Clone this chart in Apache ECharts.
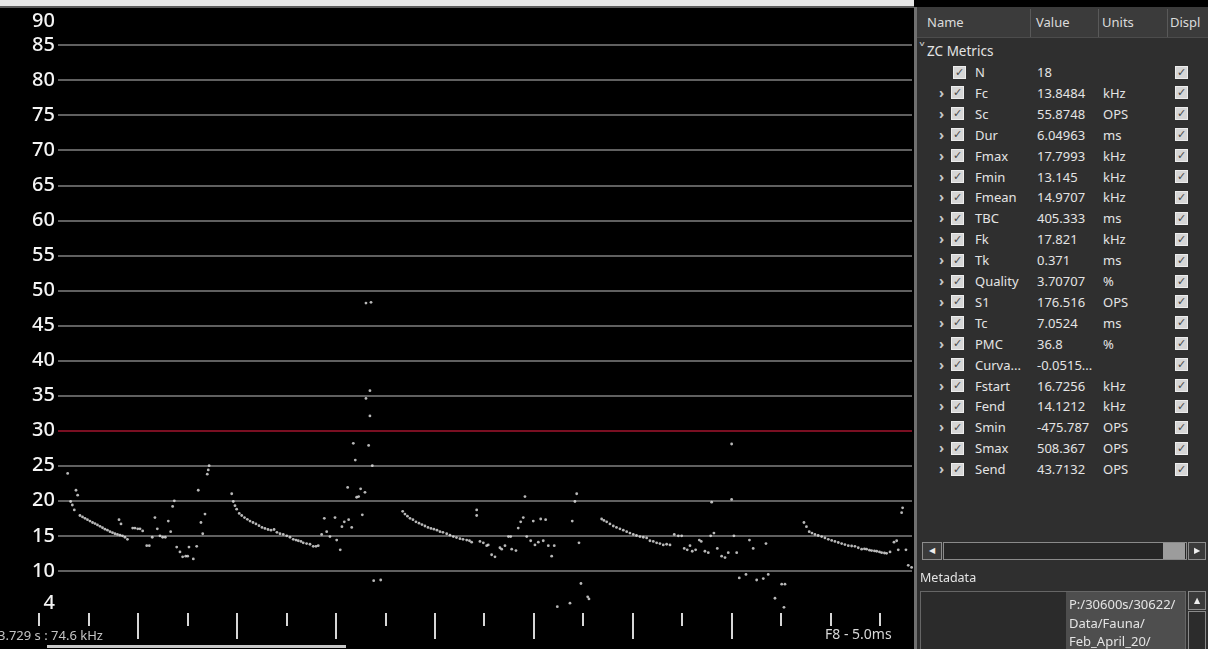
<!DOCTYPE html>
<html>
<head>
<meta charset="utf-8">
<script src="https://cdn.jsdelivr.net/npm/echarts@6/dist/echarts.min.js"></script>
<style>
  html, body { margin: 0; padding: 0; background: #e6e6e6; width: 1208px; height: 649px; overflow: hidden; }
  #chart { position: absolute; left: 0; top: 0; width: 1208px; height: 649px; }
  .ui { position: absolute; font-family: 'Noto Sans', 'DejaVu Sans', sans-serif; font-size: 13px; color: #e4e4e4; white-space: nowrap; }
  .panel { left: 914px; top: 7px; width: 294px; height: 642px; background: #2f2f2f; border-left: 3px solid #707070; box-sizing: border-box; }
  .hdr { left: 917px; top: 7px; width: 291px; height: 31px; background: #3b3b3b; border-bottom: 1px solid #4c4c4c; box-sizing: border-box; }
  .hsep { top: 9px; width: 1px; height: 28px; background: #595959; }
  .htxt { top: 7px; line-height: 31px; color: #dcdcdc; }
  .row { height: 20px; line-height: 20px; }
  .chk { width: 11px; height: 11px; background: #d6d6d6; border: 1px solid #ededed; color: #4a4a4a; font-size: 11px; line-height: 11px; text-align: center; font-weight: bold; font-family: 'DejaVu Sans', sans-serif; }
  .exp { color: #c8c8c8; font-size: 14px; font-weight: bold; }
  .sb { background: #3a3a3a; border: 1px solid #8c8c8c; box-sizing: border-box; color: #eee; font-size: 8px; text-align: center; font-family: 'DejaVu Sans', sans-serif; }
</style>
</head>
<body>
<div id="chart"></div>
<script>
// Frequency axis labels (kHz)
const freqLabels = [4, 10, 15, 20, 25, 30, 35, 40, 45, 50, 55, 60, 65, 70, 75, 80, 85, 90];
// Time ticks (ms), drawn every 5 ms; long ticks every 10 ms in the middle of the view
const shortTicks = [0, 5, 15, 25, 35, 45, 55, 65, 75, 80, 85];
const longTicks = [10, 20, 30, 40, 50, 60, 70];

// Zero-crossing points per call: [time ms, frequency kHz]
const call1 = [
  [2.90, 23.9], [3.20, 19.9], [3.37, 19.4], [3.57, 18.7], [3.74, 21.5], [3.91, 20.8],
  [4.14, 17.9], [4.40, 17.7], [4.65, 17.5], [4.90, 17.3], [5.15, 17.1], [5.41, 16.9],
  [5.66, 16.75], [5.91, 16.55], [6.17, 16.35], [6.42, 16.15], [6.67, 15.95], [6.92, 15.8],
  [7.18, 15.6], [7.43, 15.45], [7.68, 15.3], [7.93, 15.2], [8.19, 15.1], [8.44, 15.0],
  [8.69, 14.8], [8.94, 14.5],
  [8.09, 17.3], [8.29, 16.7], [9.47, 16.1], [9.70, 16.1], [9.98, 16.0], [10.21, 16.0],
  [10.48, 15.7], [10.89, 13.6], [11.15, 13.6], [11.45, 14.8], [11.72, 17.6], [11.96, 16.0],
  [12.23, 15.0], [12.50, 14.8], [12.77, 14.8], [13.07, 17.1], [13.31, 15.6], [13.51, 19.2],
  [13.68, 20.0], [13.92, 13.4], [14.25, 12.7], [14.52, 12.0], [14.83, 12.1], [15.03, 12.1],
  [15.16, 13.4], [15.60, 11.7], [15.94, 13.5], [16.10, 21.5], [16.37, 16.9], [16.55, 15.3],
  [16.78, 18.1], [17.01, 23.8], [17.11, 24.4], [17.20, 25.0]
];
const call2 = [
  [19.48, 21.0], [19.64, 19.9], [19.81, 19.3], [19.98, 18.8], [20.24, 18.2],
  [20.49, 17.9], [20.77, 17.6], [21.06, 17.35], [21.33, 17.1], [21.63, 16.9], [21.93, 16.7],
  [22.24, 16.45], [22.54, 16.2], [22.84, 16.05], [23.15, 15.9], [23.45, 15.8], [23.76, 15.9],
  [24.05, 15.5], [24.36, 15.3], [24.69, 15.2], [25.04, 15.0], [25.37, 14.8], [25.70, 14.5],
  [25.98, 14.4], [26.21, 14.3], [26.48, 14.2], [26.71, 14.0], [27.05, 13.9], [27.39, 13.8],
  [27.72, 13.5], [28.00, 13.5], [28.23, 13.6],
  [28.57, 15.2], [28.84, 17.5], [29.08, 15.6], [29.41, 14.9], [29.92, 17.6], [30.09, 14.4],
  [30.45, 13.0], [30.62, 16.3], [30.86, 17.0], [31.30, 17.3], [31.61, 16.2], [31.20, 21.9],
  [31.77, 28.2], [31.97, 25.8], [32.11, 20.5], [32.31, 20.6], [32.51, 21.7], [32.68, 18.0],
  [32.95, 21.2], [33.05, 34.6], [33.05, 48.2], [33.56, 48.3], [33.45, 35.7], [33.45, 32.1],
  [33.32, 27.9], [33.69, 25.0], [33.83, 8.6], [34.54, 8.7]
];
const call3 = [
  [36.76, 18.5], [36.99, 18.1], [37.24, 17.8], [37.50, 17.5], [37.80, 17.3], [38.10, 17.0],
  [38.41, 16.8], [38.71, 16.6], [39.01, 16.4], [39.32, 16.2], [39.62, 16.05], [39.92, 15.95],
  [40.23, 15.8], [40.53, 15.6], [40.83, 15.5], [41.21, 15.3], [41.54, 15.1], [41.88, 14.9],
  [42.20, 14.75], [42.55, 14.6], [42.86, 14.5], [43.23, 14.4], [43.51, 14.3], [43.73, 14.1],
  [44.24, 18.7], [44.24, 17.9], [44.57, 14.2], [44.91, 14.0], [45.25, 13.6], [45.41, 13.7],
  [45.75, 12.3], [46.09, 12.0], [46.59, 13.3], [46.77, 13.1], [47.10, 13.6], [47.45, 14.9],
  [47.68, 14.9], [47.78, 13.1], [48.21, 12.9], [48.44, 16.1], [48.69, 17.0], [48.95, 17.6],
  [49.12, 20.6], [49.30, 14.9], [49.70, 14.3], [49.96, 17.1], [50.13, 13.7], [50.47, 14.1],
  [50.71, 17.4], [50.97, 14.3], [51.21, 17.3], [51.48, 13.6], [51.82, 12.1], [52.08, 13.6],
  [52.39, 4.9], [53.67, 5.4], [53.90, 17.1], [54.17, 19.9], [54.35, 21.0], [54.58, 14.0],
  [54.78, 8.2], [55.46, 6.3], [55.59, 6.0]
];
const call4 = [
  [56.87, 17.4], [57.10, 17.2], [57.38, 17.0], [57.71, 16.7], [58.05, 16.4], [58.37, 16.2],
  [58.72, 16.0], [59.06, 15.8], [59.40, 15.6], [59.73, 15.4], [60.07, 15.2], [60.39, 15.05],
  [60.74, 14.9], [61.08, 14.8], [61.42, 14.7], [61.75, 14.3], [62.09, 14.2], [62.43, 14.0],
  [62.76, 13.9], [63.10, 13.7], [63.44, 13.8], [63.78, 13.7],
  [64.21, 15.2], [64.62, 15.0], [64.96, 15.0], [65.22, 13.2], [65.52, 13.0], [65.80, 13.6],
  [66.03, 12.8], [66.37, 13.0], [66.74, 14.4], [66.94, 14.2], [67.31, 12.8], [67.65, 12.6],
  [67.99, 19.8], [67.89, 15.0], [68.22, 15.4], [68.56, 13.2], [69.00, 12.1], [69.34, 11.9],
  [69.67, 12.6], [70.01, 28.1], [70.01, 20.2], [70.24, 15.0], [70.52, 12.6], [70.78, 9.0],
  [71.46, 9.5], [71.81, 14.4], [72.19, 13.2], [72.54, 8.7], [73.21, 8.9], [73.48, 13.9],
  [73.71, 9.5], [74.39, 6.1], [75.07, 8.1], [75.40, 8.1], [75.30, 4.8]
];
const call5 = [
  [77.32, 16.9], [77.57, 16.3], [77.85, 15.6], [78.13, 15.4], [78.43, 15.2], [78.76, 15.05],
  [79.11, 14.9], [79.44, 14.7], [79.78, 14.5], [80.12, 14.35], [80.45, 14.2], [80.79, 14.05],
  [81.13, 13.9], [81.46, 13.75], [81.80, 13.6], [82.14, 13.55], [82.47, 13.5], [82.81, 13.3],
  [83.15, 13.1], [83.43, 13.15], [83.65, 13.1], [83.94, 12.95], [84.16, 12.9], [84.44, 12.85],
  [84.67, 12.8], [84.95, 12.7], [85.17, 12.6], [85.45, 12.55], [85.67, 12.5], [86.02, 12.7],
  [86.42, 14.1], [86.69, 14.3], [86.85, 13.0], [87.63, 13.0], [87.19, 18.3], [87.29, 19.0],
  [87.86, 10.8], [88.20, 10.5]
];

// Metrics table
const metricNames = ['N', 'Fc', 'Sc', 'Dur', 'Fmax', 'Fmin', 'Fmean', 'TBC', 'Fk', 'Tk', 'Quality', 'S1', 'Tc', 'PMC', 'Curva...', 'Fstart', 'Fend', 'Smin', 'Smax', 'Send'];
const metricValues = ['18', '13.8484', '55.8748', '6.04963', '17.7993', '13.145', '14.9707', '405.333', '17.821', '0.371', '3.70707', '176.516', '7.0524', '36.8', '-0.0515...', '16.7256', '14.1212', '-475.787', '508.367', '43.7132'];
const metricUnits = ['', 'kHz', 'OPS', 'ms', 'kHz', 'kHz', 'kHz', 'ms', 'kHz', 'ms', '%', 'OPS', 'ms', '%', '', 'kHz', 'kHz', 'OPS', 'OPS', 'OPS'];
const metadataLines = ['P:/30600s/30622/', 'Data/Fauna/', 'Feb_April_20/'];

const points = [].concat(call1, call2, call3, call4, call5);

// Grid line colours for 0, 5, 10 ... 90 kHz (30 kHz drawn in red)
const lineColors = [];
for (let v = 0; v <= 90; v += 5) {
  if (v < 10 || v === 90) lineColors.push('rgba(0,0,0,0)');
  else if (v === 30) lineColors.push('#a3142e');
  else lineColors.push('#808080');
}

const chart = echarts.init(document.getElementById('chart'), null, { renderer: 'canvas' });
const tMin = -3.94, tMax = 88.24;
chart.setOption({
  backgroundColor: '#000',
  animation: false,
  grid: [
    { left: 0, right: 296, top: 10, bottom: 8 },
    { left: 58, right: 296, top: 10, bottom: 8 }
  ],
  xAxis: [
    {
      gridIndex: 0, type: 'value', min: tMin, max: tMax, position: 'bottom', offset: -28,
      axisLine: { show: false }, axisLabel: { show: false }, splitLine: { show: false },
      axisTick: { show: true, inside: false, length: 13, customValues: shortTicks, lineStyle: { color: '#d6d6d6', width: 2 } }
    },
    {
      gridIndex: 0, type: 'value', min: tMin, max: tMax, position: 'bottom', offset: -28,
      axisLine: { show: false }, axisLabel: { show: false }, splitLine: { show: false },
      axisTick: { show: true, inside: false, length: 26, customValues: longTicks, lineStyle: { color: '#d6d6d6', width: 2 } }
    },
    { gridIndex: 1, type: 'value', min: 0, max: 1, show: false }
  ],
  yAxis: [
    { gridIndex: 0, type: 'value', min: 0, max: 90, show: false },
    {
      gridIndex: 1, type: 'value', min: 0, max: 90, interval: 5,
      axisLine: { show: false }, axisTick: { show: false },
      splitLine: { show: true, lineStyle: { color: lineColors, width: 1.5 } },
      axisLabel: {
        customValues: freqLabels, color: '#f4f4f4', fontSize: 20, margin: 3,
        fontFamily: 'Noto Sans', fontWeight: 500,
        formatter: function (v) {
          if (v === 90) return '{top|90}';
          if (v === 4) return '{bot|4}';
          return String(v);
        },
        rich: {
          top: { fontSize: 20, color: '#f4f4f4', fontFamily: 'Noto Sans', fontWeight: 500, padding: [22, 0, 0, 0] },
          bot: { fontSize: 20, color: '#f4f4f4', fontFamily: 'Noto Sans', fontWeight: 500, padding: [0, 0, 20, 0] }
        }
      }
    }
  ],
  series: [{
    type: 'scatter', xAxisIndex: 0, yAxisIndex: 0, data: points,
    symbol: 'circle', symbolSize: 2.8,
    itemStyle: { color: '#e6e6e6' }, silent: true
  }],
  graphic: [
    { type: 'rect', shape: { x: 0, y: 0, width: 914, height: 6 }, style: { fill: '#e6e6e6' }, z: 10 },
    { type: 'rect', shape: { x: 0, y: 6, width: 914, height: 2 }, style: { fill: '#5a5a5a' }, z: 10 },
    { type: 'rect', shape: { x: 47, y: 645, width: 299, height: 3 }, style: { fill: '#c9c9c9' }, z: 10 },
    { type: 'text', x: -2, y: 636, style: { text: '3.729 s : 74.6 kHz', fill: '#c4c4c4', font: '13px "Noto Sans"', verticalAlign: 'middle' }, z: 10 },
    { type: 'text', x: 825, y: 635, style: { text: 'F8 - 5.0ms', fill: '#d8d8d8', font: '14px "Noto Sans"', verticalAlign: 'middle' }, z: 10 }
  ]
});

// Side panel with metric table and metadata
function el(cls, left, top, text, extra) {
  const d = document.createElement('div');
  d.className = 'ui ' + cls;
  d.style.left = left + 'px';
  d.style.top = top + 'px';
  if (text !== undefined) d.textContent = text;
  if (extra) Object.assign(d.style, extra);
  document.body.appendChild(d);
  return d;
}
el('panel', 914, 7);
el('hdr', 917, 7);
[1030, 1098, 1167].forEach(x => el('hsep', x, 9));
el('htxt', 927, 7, 'Name');
el('htxt', 1036, 7, 'Value');
el('htxt', 1102, 7, 'Units');
el('htxt', 1170, 7, 'Displ');
el('row', 918, 40, '\u02C5', { color: '#c0c0c0', fontSize: '16px', fontFamily: 'DejaVu Sans' });
el('row', 927, 41, 'ZC Metrics', { fontSize: '13.5px' });
metricNames.forEach((name, i) => {
  const cy = 72 + i * 20.9;
  const top = cy - 10;
  if (i > 0) el('row exp', 939, top, '\u203A');
  el('chk', i === 0 ? 953 : 951, cy - 6.5, '\u2713');
  el('row', 975, top, name);
  el('row', 1037, top, metricValues[i]);
  el('row', 1103, top, metricUnits[i]);
  el('chk', 1175, cy - 6.5, '\u2713');
});
// horizontal scroll bar
el('sb', 922, 542, '\u25C0', { width: '20px', height: '18px', lineHeight: '16px' });
el('', 943, 542, undefined, { width: '244px', height: '18px', background: '#262626', border: '1px solid #8a8a8a', boxSizing: 'border-box' });
el('', 1163, 543, undefined, { width: '22px', height: '16px', background: '#9c9c9c' });
el('sb', 1188, 542, '\u25B6', { width: '18px', height: '18px', lineHeight: '16px' });
el('row', 920, 568, 'Metadata', { fontSize: '12.5px' });
el('', 920, 591, undefined, { width: '266px', height: '60px', background: '#2b2b2b', border: '1px solid #666', boxSizing: 'border-box' });
el('', 1066, 592, undefined, { width: '119px', height: '57px', background: '#4e4e4e' });
metadataLines.forEach((t, i) => el('row', 1069, 595 + i * 18.5, t, { lineHeight: '18px', height: '18px' }));
el('sb', 1188, 591, '\u25B2', { width: '18px', height: '19px', lineHeight: '17px' });
el('', 1188, 611, undefined, { width: '18px', height: '40px', background: '#2c2c2c', border: '1px solid #8a8a8a', boxSizing: 'border-box' });
</script>
</body>
</html>
